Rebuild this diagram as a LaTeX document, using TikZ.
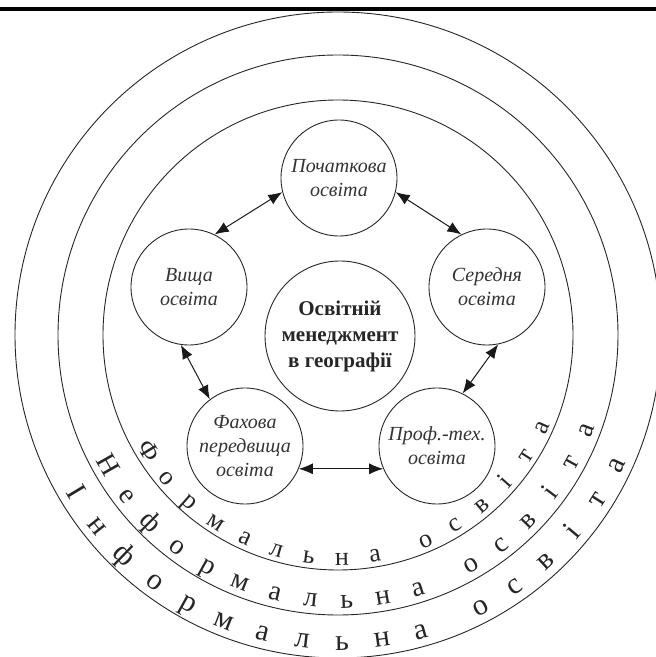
\documentclass[tikz,border=0pt]{standalone}
\usepackage{fontspec}
\setmainfont{Liberation Serif}
\usetikzlibrary{arrows.meta}
\begin{document}
\begin{tikzpicture}[x=1pt,y=1pt,
  ring/.style={draw=black!85, line width=0.9pt},
  sat/.style={circle, draw=black!85, line width=0.9pt, minimum size=116pt, inner sep=0pt, align=center, font=\fontsize{20}{24}\selectfont\itshape, text=black!80},
  hub/.style={circle, draw=black!85, line width=0.9pt, minimum size=150pt, inner sep=0pt, align=center, font=\fontsize{21}{26}\selectfont\bfseries, text=black!85},
  link/.style={{Latex[length=14pt,width=11pt]}-{Latex[length=14pt,width=11pt]}, line width=1pt, draw=black!90},
  band/.style={anchor=base, inner sep=0pt, text=black!85}
]
\useasboundingbox (0,0) rectangle (656,657);
\fill[black] (0,646) rectangle (656,650);
\begin{scope}
\clip (0,0) rectangle (656,657);
\coordinate (C) at (338,322);
\draw[ring] (C) circle[radius=235];
\draw[ring] (C) circle[radius=280];
\draw[ring] (C) circle[radius=323];
\end{scope}

\node[hub] (hub) at (340,321) {Освітній\\менеджмент\\в географії};
\node[sat] (poch) at (339,479) {Початкова\\освіта};
\node[sat] (vys) at (189,370) {Вища\\освіта};
\node[sat] (ser) at (487,370) {Середня\\освіта};
\node[sat] (fah) at (245,211) {Фахова\\передвища\\освіта};
\node[sat] (prof) at (437,211) {Проф.-тех.\\освіта};

\draw[link] (vys.64) -- (poch.194);
\draw[link] (poch.346) -- (ser.116);
\draw[link] (ser.281) -- (prof.64);
\draw[link] (vys.262) -- (fah.127);
\draw[link] (fah.337) -- (prof.203);

\foreach \ch/\k in {Ф/0,о/1,р/2,м/3,а/4,л/5,ь/6,н/7,а/8,о/9.6,с/10.6,в/11.6,і/12.6,т/13.6,а/14.6}{
  \pgfmathsetmacro\ang{211.5+8.5*\k}
  \node[band, font=\fontsize{26}{28}\selectfont, rotate=\ang+90] at ([shift={(\ang:230)}]C) {\ch};
}
\foreach \ch/\k in {Н/0,е/1,ф/2,о/3,р/4,м/5,а/6,л/7,ь/8,н/9,а/10,о/11.6,с/12.6,в/13.6,і/14.6,т/15.6,а/16.6}{
  \pgfmathsetmacro\ang{209.5+7.8*\k}
  \node[band, font=\fontsize{28}{30}\selectfont, rotate=\ang+90] at ([shift={(\ang:273)}]C) {\ch};
}
\foreach \ch/\k in {І/0,н/1,ф/2,о/3,р/4,м/5,а/6,л/7,ь/8,н/9,а/10,о/11.6,с/12.6,в/13.6,і/14.6,т/15.6,а/16.6}{
  \pgfmathsetmacro\ang{211+7.47*\k}
  \node[band, font=\fontsize{30}{32}\selectfont, rotate=\ang+90] at ([shift={(\ang:315)}]C) {\ch};
}
\end{tikzpicture}
\end{document}
